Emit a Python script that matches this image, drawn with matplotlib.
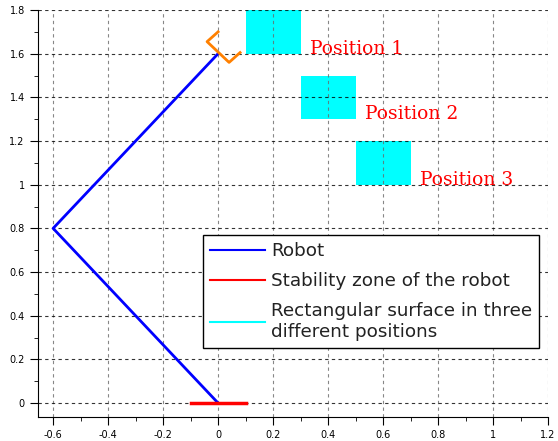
import matplotlib
matplotlib.use("Agg")
import matplotlib.pyplot as plt
from matplotlib.patches import Rectangle
from matplotlib.ticker import MultipleLocator

# robot arm joints
robot_x = [0, -0.6, 0]
robot_y = [0, 0.8, 1.6]

# gripper at the end
grip_x = [0, -0.04, 0.04, 0.08]
grip_y = [1.70, 1.655, 1.56, 1.605]

# stability zone
zone_x = [-0.1, 0.1]
zone_y = [0, 0]

# rectangles: lower-left corners, width, height
rect_x = [0.1, 0.3, 0.5]
rect_y = [1.6, 1.3, 1.0]
rect_w = 0.2
rect_h = 0.2
rect_labels = ["Position 1", "Position 2", "Position 3"]

fig = plt.figure(figsize=(5.58, 4.41), dpi=100)
ax = fig.add_axes([38/558, 24/441, 510/558, 407/441])

for x, y, lab in zip(rect_x, rect_y, rect_labels):
    ax.add_patch(Rectangle((x, y), rect_w, rect_h, facecolor="cyan", edgecolor="none", zorder=1))
    ax.text(x + rect_w + 0.035, y, lab, color="red", fontsize=13.5, family="DejaVu Serif",
            va="baseline", zorder=4)

ax.plot(robot_x, robot_y, color="blue", lw=2, label="Robot", zorder=3)
ax.plot(zone_x, zone_y, color="red", lw=2.5, label="Stability zone of the robot", zorder=3)
ax.plot(grip_x, grip_y, color="#ff8000", lw=2, zorder=3)
ax.plot([], [], color="cyan", lw=2, label="Rectangular surface in three\ndifferent positions")

ax.set_xlim(-0.655, 1.2)
ax.set_ylim(-0.064, 1.8)
ax.xaxis.set_minor_locator(MultipleLocator(0.1))
ax.yaxis.set_minor_locator(MultipleLocator(0.1))
ax.set_xticks([-0.6, -0.4, -0.2, 0, 0.2, 0.4, 0.6, 0.8, 1, 1.2])
ax.set_xticklabels(["-0.6", "-0.4", "-0.2", "0", "0.2", "0.4", "0.6", "0.8", "1", "1.2"])
ax.set_yticks([0, 0.2, 0.4, 0.6, 0.8, 1, 1.2, 1.4, 1.6, 1.8])
ax.set_yticklabels(["0", "0.2", "0.4", "0.6", "0.8", "1", "1.2", "1.4", "1.6", "1.8"])
ax.tick_params(which="major", length=6, labelsize=7)
ax.tick_params(which="minor", length=3)
ax.grid(True, which="major", axis="y", color="black", ls=(0, (3, 3)), lw=0.8, alpha=0.8)
ax.grid(True, which="major", axis="x", color="dimgray", ls=(0, (3, 3)), lw=0.8, alpha=0.8)
ax.spines["top"].set_visible(False)
ax.spines["right"].set_visible(False)

leg = ax.legend(loc="upper left", bbox_to_anchor=(203/558, 1 - 235/441),
                bbox_transform=fig.transFigure, fontsize=13.2, fancybox=False,
                framealpha=1, edgecolor="black", handlelength=3.0, handletextpad=0.3,
                borderpad=0.4, borderaxespad=0, labelspacing=0.65)
leg.get_frame().set_linewidth(1)
for line in leg.get_lines():
    line.set_linewidth(1.5)
for t in leg.get_texts():
    t.set_color("#222222")

fig.savefig("out.png", dpi=100)
